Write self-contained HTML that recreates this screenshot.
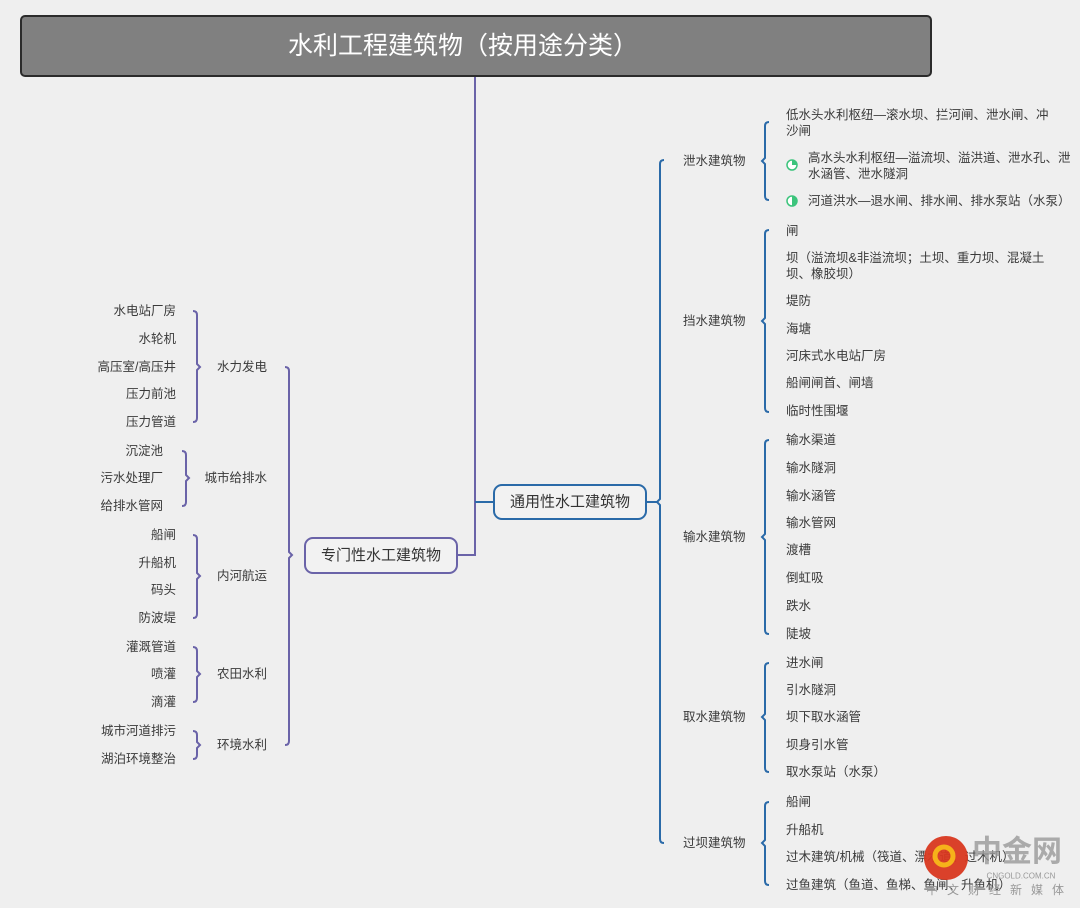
<!DOCTYPE html>
<html><head><meta charset="utf-8"><style>
html,body{margin:0;padding:0;background:#efefef;}
svg{display:block;}
text{font-family:"Liberation Sans","Noto Sans CJK SC",sans-serif;fill:#3a3a3a;font-size:12.5px;dominant-baseline:central;}
</style></head><body>
<svg width="1080" height="908" viewBox="0 0 1080 908" xmlns="http://www.w3.org/2000/svg">
<rect width="1080" height="908" fill="#efefef"/>
<!-- title -->
<rect x="21" y="16" width="910" height="60" rx="4" fill="#808080" stroke="#2b2b2b" stroke-width="2"/>
<text x="463" y="46" text-anchor="middle" style="fill:#fff;font-size:25px">水利工程建筑物（按用途分类）</text>
<!-- trunk -->
<path d="M475 77 L475 555 L458 555 M475 502 L493 502" stroke="#6a63a8" stroke-width="2" fill="none"/>
<path d="M475 502 L493 502" stroke="#2a6aa8" stroke-width="2" fill="none"/>
<!-- center boxes -->
<rect x="305" y="538" width="152" height="35" rx="8" fill="#f2f2f2" stroke="#6a63a8" stroke-width="2"/>
<text x="381" y="555.5" text-anchor="middle" style="font-size:15px;fill:#333">专门性水工建筑物</text>
<rect x="494" y="485" width="152" height="34" rx="8" fill="#f2f2f2" stroke="#2a6aa8" stroke-width="2"/>
<text x="570" y="502" text-anchor="middle" style="font-size:15px;fill:#333">通用性水工建筑物</text>
<line x1="646" y1="502" x2="657" y2="502" stroke="#2a6aa8" stroke-width="2"/>

<g fill="none" stroke="#2a6aa8" stroke-width="2">
<path d="M664 160 Q660 160 660 164 L660 499 L657 502 L660 505 L660 839 Q660 843 664 843"/>
<path d="M769 122 Q765 122 765 126 L765 158 L762 161 L765 164 L765 196 Q765 200 769 200"/>
<path d="M769 230 Q765 230 765 234 L765 318 L762 321 L765 324 L765 408 Q765 412 769 412"/>
<path d="M769 440 Q765 440 765 444 L765 534 L762 537 L765 540 L765 630 Q765 634 769 634"/>
<path d="M769 663 Q765 663 765 667 L765 714 L762 717 L765 720 L765 768 Q765 772 769 772"/>
<path d="M769 802 Q765 802 765 806 L765 840 L762 843 L765 846 L765 881 Q765 885 769 885"/>
</g>
<g fill="none" stroke="#6a63a8" stroke-width="2">
<path d="M285 367 Q289 367 289 371 L289 552 L292 555 L289 558 L289 741 Q289 745 285 745"/>
<path d="M193 311 Q197 311 197 315 L197 364 L200 367 L197 370 L197 418 Q197 422 193 422"/>
<path d="M182 451 Q186 451 186 455 L186 475 L189 478 L186 481 L186 502 Q186 506 182 506"/>
<path d="M193 535 Q197 535 197 539 L197 573 L200 576 L197 579 L197 614 Q197 618 193 618"/>
<path d="M193 647 Q197 647 197 651 L197 671 L200 674 L197 677 L197 698 Q197 702 193 702"/>
<path d="M193 731 Q197 731 197 735 L197 742 L200 745 L197 748 L197 755 Q197 759 193 759"/>
</g>

<text x="683" y="161">泄水建筑物</text>
<text x="683" y="321">挡水建筑物</text>
<text x="683" y="537">输水建筑物</text>
<text x="683" y="717">取水建筑物</text>
<text x="683" y="843">过坝建筑物</text>

<text x="786" y="115">低水头水利枢纽—滚水坝、拦河闸、泄水闸、冲</text>
<text x="786" y="131">沙闸</text>
<circle cx="792" cy="165" r="5" fill="#fff" stroke="#3cc47c" stroke-width="1.5"/>
<path d="M792 165 L792 160 A5 5 0 0 1 797 165 Z" fill="#3cc47c"/>
<text x="808" y="158">高水头水利枢纽—溢流坝、溢洪道、泄水孔、泄</text>
<text x="808" y="174">水涵管、泄水隧洞</text>
<circle cx="792" cy="201" r="5" fill="#fff" stroke="#3cc47c" stroke-width="1.5"/>
<path d="M792 201 L792 196 A5 5 0 0 1 792 206 Z" fill="#3cc47c"/>
<text x="808" y="201">河道洪水—退水闸、排水闸、排水泵站（水泵）</text>

<text x="786" y="231">闸</text>
<text x="786" y="258">坝（溢流坝&amp;非溢流坝；土坝、重力坝、混凝土</text>
<text x="786" y="274">坝、橡胶坝）</text>
<text x="786" y="301">堤防</text>
<text x="786" y="329">海塘</text>
<text x="786" y="356">河床式水电站厂房</text>
<text x="786" y="383">船闸闸首、闸墙</text>
<text x="786" y="411">临时性围堰</text>

<text x="786" y="440">输水渠道</text>
<text x="786" y="468">输水隧洞</text>
<text x="786" y="496">输水涵管</text>
<text x="786" y="523">输水管网</text>
<text x="786" y="550">渡槽</text>
<text x="786" y="578">倒虹吸</text>
<text x="786" y="606">跌水</text>
<text x="786" y="634">陡坡</text>

<text x="786" y="663">进水闸</text>
<text x="786" y="690">引水隧洞</text>
<text x="786" y="717">坝下取水涵管</text>
<text x="786" y="745">坝身引水管</text>
<text x="786" y="772">取水泵站（水泵）</text>

<text x="786" y="802">船闸</text>
<text x="786" y="830">升船机</text>
<text x="786" y="857">过木建筑/机械（筏道、漂木道、过木机）</text>
<text x="786" y="885">过鱼建筑（鱼道、鱼梯、鱼闸、升鱼机）</text>

<g text-anchor="end">
<text x="267" y="367">水力发电</text>
<text x="267" y="478">城市给排水</text>
<text x="267" y="576">内河航运</text>
<text x="267" y="674">农田水利</text>
<text x="267" y="745">环境水利</text>

<text x="176" y="311">水电站厂房</text>
<text x="176" y="339">水轮机</text>
<text x="176" y="367">高压室/高压井</text>
<text x="176" y="394">压力前池</text>
<text x="176" y="422">压力管道</text>
<text x="163" y="451">沉淀池</text>
<text x="163" y="478">污水处理厂</text>
<text x="163" y="506">给排水管网</text>
<text x="176" y="535">船闸</text>
<text x="176" y="563">升船机</text>
<text x="176" y="590">码头</text>
<text x="176" y="618">防波堤</text>
<text x="176" y="647">灌溉管道</text>
<text x="176" y="674">喷灌</text>
<text x="176" y="702">滴灌</text>
<text x="176" y="731">城市河道排污</text>
<text x="176" y="759">湖泊环境整治</text>
</g>

<circle cx="946" cy="858" r="22" fill="#d8371f" opacity="0.95"/>
<circle cx="944" cy="856" r="9" fill="none" stroke="#f6b21a" stroke-width="5"/>
<text x="1017" y="852" text-anchor="middle" style="font-size:30px;fill:#999;font-weight:bold;opacity:0.8">中金网</text>
<text x="1021" y="876" text-anchor="middle" style="font-size:8px;fill:#999">CNGOLD.COM.CN</text>
<text x="926" y="890" style="font-size:12px;fill:#999;letter-spacing:9px">中文财经新媒体</text>
</svg>
</body></html>
